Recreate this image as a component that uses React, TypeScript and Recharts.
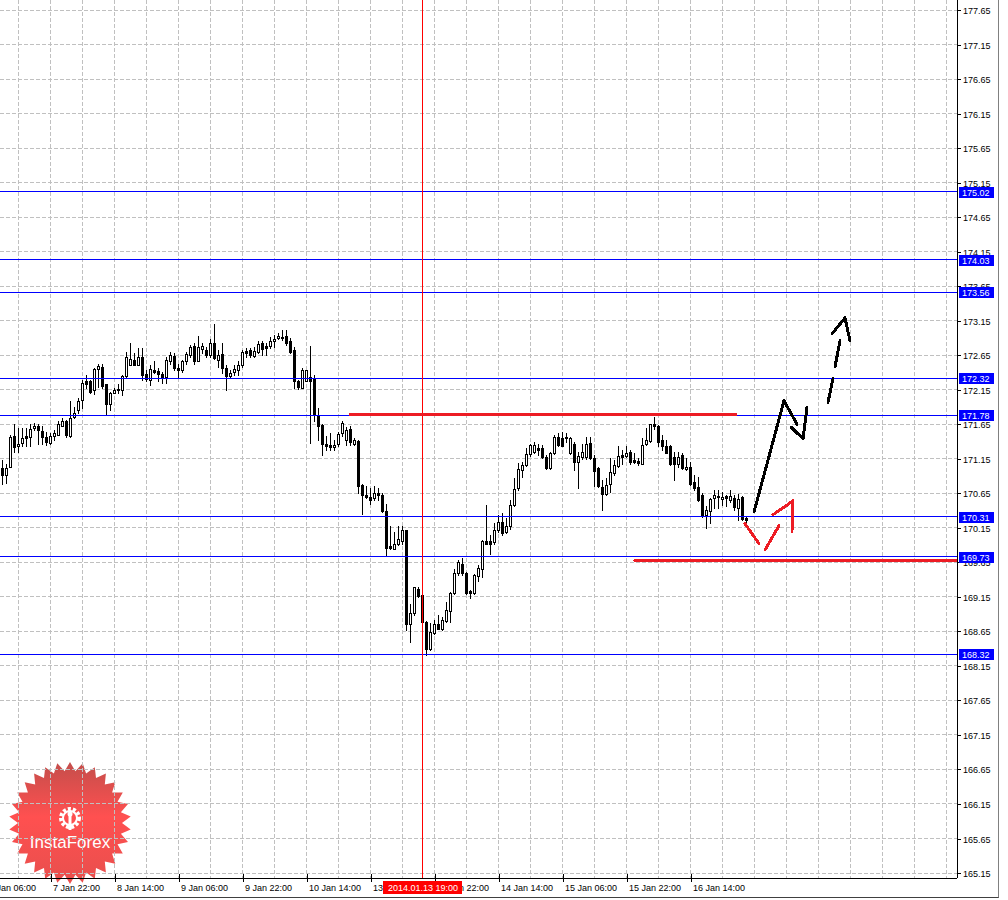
import React from 'react';
import { ComposedChart, Bar, XAxis, YAxis, CartesianGrid, ReferenceLine } from 'recharts';

// ---- candle data (H1 bars, 7 Jan 10:00 .. 17 Jan) ----
const opens = [
  171.01, 170.91, 171.03, 171.48, 171.33, 171.38, 171.48, 171.46, 171.59, 171.62,
  171.55, 171.47, 171.38, 171.48, 171.50, 171.62, 171.70, 171.48, 171.75, 171.86,
  172.00, 172.27, 172.27, 172.15, 172.45, 172.48, 172.23, 171.94, 172.11, 172.16,
  172.15, 172.35, 172.51, 172.58, 172.51, 172.62, 172.38, 172.29, 172.44, 172.42,
  172.38, 172.33, 172.57, 172.64, 172.47, 172.43, 172.56, 172.65, 172.78, 172.57,
  172.74, 172.73, 172.65, 172.82, 172.58, 172.67, 172.46, 172.35, 172.40, 172.44,
  172.51, 172.71, 172.73, 172.64, 172.69, 172.82, 172.79, 172.78, 172.86, 172.90,
  172.92, 172.93, 172.85, 172.73, 172.27, 172.18, 172.28, 172.33, 172.32, 171.78,
  171.64, 171.37, 171.35, 171.32, 171.36, 171.52, 171.42, 171.58, 171.37, 171.41,
  170.77, 170.63, 170.60, 170.58, 170.66, 170.62, 170.39, 169.88, 169.85, 169.92,
  169.96, 170.12, 168.76, 168.92, 169.27, 169.18, 168.79, 168.40, 168.62, 168.76,
  168.68, 168.80, 168.94, 169.20, 169.49, 169.63, 169.49, 169.23, 169.20, 169.45,
  169.56, 169.96, 169.96, 169.95, 170.12, 170.24, 170.09, 170.17, 170.48, 170.72,
  170.99, 171.06, 171.22, 171.25, 171.30, 171.31, 171.17, 171.01, 171.24, 171.47,
  171.45, 171.47, 171.23, 171.37, 171.11, 171.17, 171.17, 171.38, 171.16, 171.01,
  170.74, 170.64, 170.79, 170.94, 171.04, 171.20, 171.19, 171.25, 171.13, 171.12,
  171.08, 171.36, 171.41, 171.65, 171.62, 171.42, 171.33, 171.33, 171.17, 171.07,
  171.20, 171.00, 171.03, 170.82, 170.74, 170.63, 170.34, 170.39, 170.58, 170.61,
  170.57, 170.61, 170.55, 170.58, 170.43, 170.60, 170.29,
];
const highs = [
  171.13, 171.08, 171.49, 171.65, 171.59, 171.59, 171.59, 171.65, 171.67, 171.65,
  171.62, 171.54, 171.53, 171.57, 171.69, 171.74, 171.71, 171.98, 171.90, 172.03,
  172.29, 172.36, 172.29, 172.46, 172.53, 172.53, 172.24, 172.12, 172.17, 172.24,
  172.36, 172.69, 172.82, 172.68, 172.75, 172.75, 172.44, 172.51, 172.56, 172.46,
  172.41, 172.63, 172.70, 172.68, 172.53, 172.58, 172.70, 172.80, 172.83, 172.93,
  172.83, 172.77, 172.88, 173.10, 172.73, 172.82, 172.51, 172.44, 172.51, 172.56,
  172.73, 172.75, 172.75, 172.77, 172.85, 172.85, 172.82, 172.92, 172.94, 172.97,
  173.02, 173.02, 172.90, 172.77, 172.29, 172.46, 172.44, 172.78, 172.36, 171.88,
  171.66, 171.48, 171.52, 171.42, 171.54, 171.69, 171.61, 171.62, 171.45, 171.42,
  170.78, 170.75, 170.72, 170.75, 170.72, 170.65, 170.50, 170.17, 170.09, 170.17,
  170.17, 170.12, 169.05, 169.30, 169.29, 169.18, 168.80, 168.77, 168.82, 168.89,
  168.86, 169.08, 169.22, 169.55, 169.68, 169.71, 169.51, 169.25, 169.48, 169.61,
  169.98, 170.48, 170.04, 170.22, 170.34, 170.36, 170.29, 170.55, 170.87, 171.09,
  171.11, 171.30, 171.37, 171.40, 171.37, 171.35, 171.20, 171.25, 171.50, 171.52,
  171.54, 171.52, 171.46, 171.40, 171.25, 171.37, 171.46, 171.46, 171.20, 171.03,
  170.84, 170.87, 171.16, 171.13, 171.33, 171.28, 171.33, 171.28, 171.23, 171.16,
  171.45, 171.59, 171.66, 171.76, 171.64, 171.50, 171.42, 171.35, 171.25, 171.25,
  171.24, 171.16, 171.11, 170.91, 170.89, 170.65, 170.46, 170.58, 170.70, 170.70,
  170.67, 170.63, 170.70, 170.63, 170.64, 170.61, 170.31,
];
const lows = [
  170.79, 170.80, 171.03, 171.25, 171.25, 171.33, 171.33, 171.33, 171.56, 171.36,
  171.36, 171.35, 171.36, 171.42, 171.49, 171.62, 171.47, 171.47, 171.74, 171.81,
  171.88, 172.17, 172.10, 172.09, 172.19, 172.17, 171.78, 171.86, 172.10, 172.10,
  172.07, 172.34, 172.51, 172.51, 172.51, 172.29, 172.27, 172.22, 172.39, 172.27,
  172.25, 172.25, 172.53, 172.43, 172.34, 172.41, 172.53, 172.63, 172.53, 172.56,
  172.68, 172.63, 172.63, 172.59, 172.48, 172.39, 172.15, 172.32, 172.36, 172.36,
  172.48, 172.63, 172.62, 172.62, 172.68, 172.65, 172.65, 172.75, 172.77, 172.88,
  172.87, 172.80, 172.68, 172.17, 172.16, 172.17, 172.27, 171.38, 171.70, 171.42,
  171.20, 171.27, 171.28, 171.27, 171.33, 171.48, 171.35, 171.35, 171.35, 170.65,
  170.35, 170.58, 170.50, 170.56, 170.55, 170.38, 169.74, 169.85, 169.84, 169.90,
  169.92, 168.67, 168.49, 168.89, 169.15, 168.78, 168.31, 168.38, 168.61, 168.68,
  168.67, 168.79, 168.79, 169.19, 169.47, 169.47, 169.19, 169.14, 169.19, 169.38,
  169.44, 169.92, 169.77, 169.92, 170.09, 170.05, 170.08, 170.14, 170.46, 170.70,
  170.89, 171.04, 171.19, 171.23, 171.20, 171.16, 171.00, 171.00, 171.22, 171.33,
  171.33, 171.40, 171.22, 170.99, 170.72, 171.14, 171.14, 171.14, 170.75, 170.74,
  170.41, 170.63, 170.67, 170.91, 171.03, 171.08, 171.17, 171.08, 171.09, 171.06,
  171.07, 171.35, 171.40, 171.58, 171.33, 171.28, 171.23, 171.06, 170.84, 171.03,
  171.00, 170.99, 170.77, 170.70, 170.54, 170.30, 170.15, 170.22, 170.43, 170.43,
  170.48, 170.46, 170.53, 170.41, 170.27, 170.26, 170.24,
];
const closes = [
  170.91, 171.01, 171.47, 171.32, 171.37, 171.45, 171.45, 171.58, 171.63, 171.56,
  171.47, 171.40, 171.48, 171.53, 171.65, 171.70, 171.49, 171.74, 171.81, 171.98,
  172.25, 172.24, 172.12, 172.45, 172.49, 172.20, 171.95, 172.10, 172.14, 172.14,
  172.35, 172.62, 172.59, 172.51, 172.62, 172.36, 172.30, 172.45, 172.41, 172.38,
  172.32, 172.58, 172.65, 172.46, 172.44, 172.56, 172.67, 172.77, 172.57, 172.77,
  172.78, 172.65, 172.83, 172.61, 172.65, 172.47, 172.35, 172.39, 172.45, 172.51,
  172.69, 172.68, 172.65, 172.71, 172.81, 172.74, 172.76, 172.86, 172.89, 172.93,
  172.90, 172.82, 172.70, 172.27, 172.19, 172.44, 172.43, 172.27, 171.78, 171.62,
  171.37, 171.33, 171.32, 171.35, 171.51, 171.67, 171.56, 171.40, 171.42, 170.76,
  170.62, 170.60, 170.56, 170.66, 170.62, 170.39, 169.86, 169.86, 169.92, 169.99,
  170.12, 168.76, 168.91, 169.29, 169.16, 168.79, 168.40, 168.64, 168.76, 168.69,
  168.81, 168.96, 169.20, 169.49, 169.65, 169.49, 169.20, 169.20, 169.46, 169.57,
  169.96, 169.92, 169.92, 170.12, 170.23, 170.08, 170.17, 170.48, 170.71, 171.00,
  171.06, 171.22, 171.35, 171.35, 171.28, 171.17, 171.01, 171.24, 171.47, 171.35,
  171.34, 171.45, 171.45, 171.11, 171.19, 171.25, 171.37, 171.16, 170.98, 170.75,
  170.64, 170.77, 170.96, 171.06, 171.19, 171.17, 171.24, 171.11, 171.11, 171.09,
  171.35, 171.42, 171.65, 171.63, 171.40, 171.33, 171.24, 171.08, 171.08, 171.18,
  171.01, 171.03, 170.79, 170.72, 170.55, 170.34, 170.41, 170.57, 170.62, 170.59,
  170.60, 170.58, 170.61, 170.45, 170.57, 170.28, 170.27,
];

// ---- axes ----
const priceTicks = [
  165.15, 165.65, 166.15, 166.65, 167.15, 167.65, 168.15, 168.65, 169.15, 169.65,
  170.15, 170.65, 171.15, 171.65, 172.15, 172.65, 173.15, 173.65, 174.15, 174.65,
  175.15, 175.65, 176.15, 176.65, 177.15, 177.65,
];
const gridBars = [
  -4, 4, 12, 20, 28, 36, 44, 52, 60, 68, 76, 84, 92, 100, 108, 116, 124, 132, 140,
  148, 156, 164, 172, 180, 188, 196, 204, 212, 220, 228, 236,
];
const timeLabelBars = [-4, 12, 28, 44, 60, 76, 92, 108, 124, 140, 156, 172];
const timeLabels = [
  '7 Jan 06:00', '7 Jan 22:00', '8 Jan 14:00', '9 Jan 06:00', '9 Jan 22:00', '10 Jan 14:00',
  '13 Jan 06:00', '13 Jan 22:00', '14 Jan 14:00', '15 Jan 06:00', '15 Jan 22:00', '16 Jan 14:00',
];

// ---- annotations (bar index, price) ----
const levelPrices = [175.02, 174.03, 173.56, 172.32, 171.78, 170.31, 169.73, 168.32];
const cursorBar = 105;
const cursorLabel = '2014.01.13 19:00';
const redResistance = [[86.9, 171.79], [183.3, 171.79]];
const redSupport = [[158.1, 169.675], [238.6, 169.675]];
const blackPath1 = [[187.875, 170.38], [195.375, 171.99], [198.625, 171.65]];
const blackPath2 = [[197.125, 171.61], [200.125, 171.44], [201.125, 171.89]];
const blackDashes = [
  [[206.375, 171.97], [207.625, 172.31]],
  [[208.125, 172.48], [209.375, 172.86]],
];
const blackHead = [[207.375, 172.96], [210.625, 173.19], [211.875, 172.86]];
const redDashes = [
  [[185.625, 170.21], [189.125, 169.92]],
  [[190.625, 169.83], [194.125, 170.18]],
];
const redHead = [[192.625, 170.34], [197.625, 170.54], [197.375, 170.10]];

const data = opens.map((o, i) => ({
  i,
  o,
  h: highs[i],
  l: lows[i],
  c: closes[i],
  range: [lows[i], highs[i]],
}));

const X_DOMAIN = [-0.625, 238.625];
const Y_DOMAIN = [165.078, 177.795];
const FONT = 'Liberation Sans, Arial, sans-serif';

const Candle = (props: any) => {
  const { x, y, width, height, payload } = props;
  if (!payload || x == null || y == null) return null;
  const { o, h, l, c } = payload;
  const top = Math.min(y, y + height);
  const bot = Math.max(y, y + height);
  const k = h > l ? (bot - top) / (h - l) : 0;
  const py = (v: number) => top + (h - v) * k;
  const cx = Math.floor(x + width / 2);
  const bull = c >= o;
  const yo = Math.round(py(o));
  const yc = Math.round(py(c));
  const bt = Math.min(yo, yc);
  const bb = Math.max(yo, yc);
  return (
    <g>
      <line x1={cx + 0.5} x2={cx + 0.5} y1={Math.round(top)} y2={Math.round(bot) + 1} stroke="#000" strokeWidth={1} />
      {bb - bt < 1 ? (
        <line x1={cx - 1} x2={cx + 2} y1={bt + 0.5} y2={bt + 0.5} stroke="#000" strokeWidth={1} />
      ) : (
        <rect x={cx - 0.5} y={bt + 0.5} width={2} height={bb - bt} fill={bull ? '#fff' : '#000'} stroke="#000" strokeWidth={1} />
      )}
    </g>
  );
};

// time axis: labels, tick marks, and the red cursor tag (drawn last, on top)
const TimeTick = (props: any) => {
  const { x, y, payload } = props;
  const tx = Math.round(x);
  if (payload.value === cursorBar) {
    return (
      <g>
        <rect x={tx - 40} y={y + 3} width={79} height={13} fill="#ff0000" />
        <text x={tx} y={y + 13} fontSize={9} fontFamily={FONT} fill="#fff" textAnchor="middle">
          {cursorLabel}
        </text>
      </g>
    );
  }
  const idx = timeLabelBars.indexOf(payload.value);
  if (idx < 0) return null;
  return (
    <g>
      <line x1={tx + 0.5} x2={tx + 0.5} y1={y - 4} y2={y + 4} stroke="#000" />
      <text x={tx + 2} y={y + 13} fontSize={9} fontFamily={FONT} fill="#000" textAnchor="start">
        {timeLabels[idx]}
      </text>
    </g>
  );
};

// price axis: labels + tick marks, and blue level tags (drawn last, on top)
const PriceTick = (props: any) => {
  const { x, y, payload } = props;
  const v = Number(payload.value);
  const yy = Math.round(y);
  if (levelPrices.includes(v)) {
    return (
      <g>
        <rect x={x + 2} y={yy - 5} width={35} height={11} fill="#0000ff" />
        <text x={x + 5} y={yy + 4} fontSize={9} fontFamily={FONT} fill="#fff">
          {v.toFixed(2)}
        </text>
      </g>
    );
  }
  return (
    <g>
      <line x1={x} x2={x + 4} y1={yy + 0.5} y2={yy + 0.5} stroke="#000" />
      <text x={x + 6} y={yy + 4} fontSize={9} fontFamily={FONT} fill="#000" textAnchor="start">
        {v.toFixed(2)}
      </text>
    </g>
  );
};

const segs = (pts: number[][]) => pts.slice(1).map((p, k) => [pts[k], p]);

const drawSeg = (s: number[][], color: string, key: string) => (
  <ReferenceLine
    key={key}
    segment={[{ x: s[0][0], y: s[0][1] }, { x: s[1][0], y: s[1][1] }]}
    stroke={color}
    strokeWidth={3}
    strokeLinecap="round"
    ifOverflow="visible"
  />
);

const Badge = () => {
  const cx = 70;
  const cy = 823;
  const n = 30;
  const pts: string[] = [];
  for (let k = 0; k < n * 2; k++) {
    const r = k % 2 === 0 ? 61 : 52;
    const a = (Math.PI * k) / n - Math.PI / 2;
    pts.push(`${(cx + r * Math.cos(a)).toFixed(1)},${(cy + r * Math.sin(a)).toFixed(1)}`);
  }
  return (
    <svg width={1000} height={900} style={{ position: 'absolute', left: 0, top: 0 }}>
      <defs>
        <linearGradient id="bdg" x1="0" y1="0" x2="0" y2="1">
          <stop offset="0" stopColor="#c44e4b" />
          <stop offset="0.45" stopColor="#ff5050" />
          <stop offset="1" stopColor="#e84f4d" />
        </linearGradient>
      </defs>
      <polygon points={pts.join(' ')} fill="url(#bdg)" />
      <circle cx={70} cy={818} r={9} fill="none" stroke="#fff" strokeWidth={4} strokeDasharray="3 2" />
      <circle cx={70} cy={818} r={7} fill="none" stroke="#fff" strokeWidth={2} />
      <line x1={70} y1={816} x2={70} y2={830} stroke="#fff" strokeWidth={3} />
      <circle cx={70} cy={814} r={2.5} fill="#fff" />
      <text x={70} y={848} fontSize={17} fontFamily={FONT} fill="#fff" textAnchor="middle">
        InstaForex
      </text>
    </svg>
  );
};

export default function App() {
  return (
    <div style={{ position: 'relative', width: 1000, height: 900, background: '#fff' }}>
      <style>{'body{margin:0;background:#fff}'}</style>
      <Badge />
      <div style={{ position: 'absolute', left: 0, top: 0 }}>
        <ComposedChart
          width={1000}
          height={900}
          data={data}
          margin={{ top: 0, right: 0, bottom: 0, left: 0 }}
          style={{ shapeRendering: 'crispEdges' }}
        >
          <CartesianGrid
            stroke="#c0c0c0"
            strokeDasharray="4 2"
            horizontalValues={priceTicks}
            verticalValues={gridBars}
          />
          <XAxis
            type="number"
            dataKey="i"
            domain={X_DOMAIN}
            allowDataOverflow
            ticks={[...gridBars, cursorBar]}
            interval={0}
            tick={<TimeTick />}
            tickLine={false}
            tickSize={0}
            tickMargin={0}
            axisLine={{ stroke: '#000' }}
            height={22}
          />
          <YAxis
            orientation="right"
            type="number"
            domain={Y_DOMAIN}
            allowDataOverflow
            ticks={[...priceTicks, ...levelPrices]}
            interval={0}
            width={43}
            tickSize={0}
            tickMargin={0}
            tickLine={false}
            axisLine={{ stroke: '#000' }}
            tick={<PriceTick />}
          />
          <Bar dataKey="range" barSize={3} isAnimationActive={false} shape={(p: any) => <Candle {...p} />} />
          {levelPrices.map((lv) => (
            <ReferenceLine key={`lv${lv}`} y={lv} stroke="#0000ff" strokeWidth={1} ifOverflow="visible" />
          ))}
          <ReferenceLine x={cursorBar} stroke="#ff0000" strokeWidth={1} ifOverflow="visible" />
          {drawSeg(redResistance, '#ed1c24', 'rr')}
          {drawSeg(redSupport, '#ed1c24', 'rs')}
          {segs(blackPath1).map((s, k) => drawSeg(s, '#000', `b1${k}`))}
          {segs(blackPath2).map((s, k) => drawSeg(s, '#000', `b2${k}`))}
          {blackDashes.map((s, k) => drawSeg(s, '#000', `bd${k}`))}
          {segs(blackHead).map((s, k) => drawSeg(s, '#000', `bh${k}`))}
          {redDashes.map((s, k) => drawSeg(s, '#ed1c24', `rd${k}`))}
          {segs(redHead).map((s, k) => drawSeg(s, '#ed1c24', `rh${k}`))}
        </ComposedChart>
      </div>
      <div
        style={{
          position: 'absolute',
          left: 0,
          top: 0,
          width: 998,
          height: 897,
          borderRight: '1px solid #808080',
          borderBottom: '1px solid #404040',
          pointerEvents: 'none',
        }}
      />
    </div>
  );
}
